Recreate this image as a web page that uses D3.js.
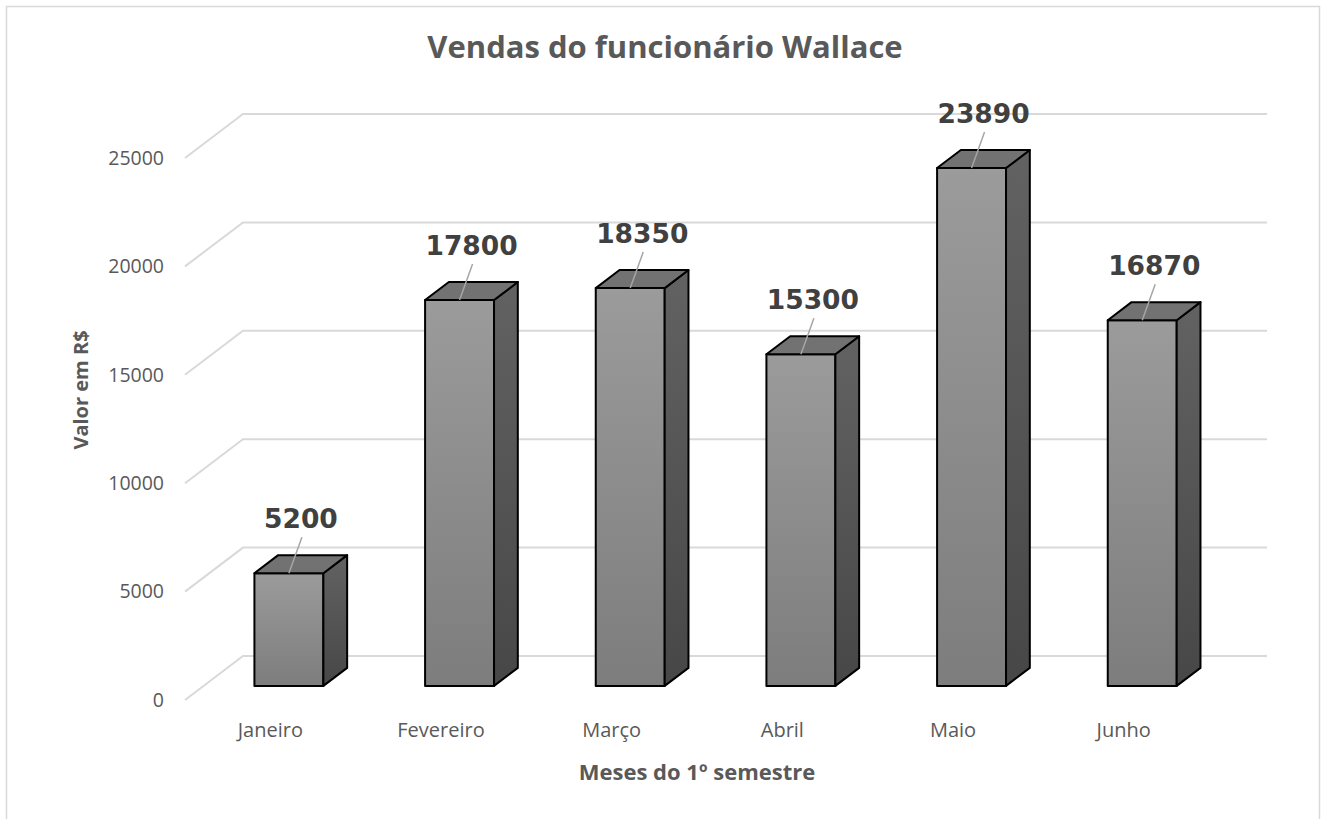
<!DOCTYPE html>
<html>
<head>
<meta charset="utf-8">
<script src="https://cdn.jsdelivr.net/npm/d3@7"></script>
<style>
  html, body { margin: 0; padding: 0; background: #fff; }
  svg { display: block; }
</style>
</head>
<body>
<svg id="chart" width="1326" height="819"></svg>
<script>
// dados
const meses = ['Janeiro', 'Fevereiro', 'Março', 'Abril', 'Maio', 'Junho'];
const vendas = [5200, 17800, 18350, 15300, 23890, 16870];
const yTicks = [0, 5000, 10000, 15000, 20000, 25000];

const width = 1326, height = 819;
const svg = d3.select('#chart');
const font = '"Open Sans", "Segoe UI", sans-serif';

// plano frontal + profundidade (pseudo 3D)
const frontLeft = 185, frontRight = 1209;
const depthX = 58, depthY = -44;
const zFront = 0.32, zBack = 0.73;

const x = d3.scaleBand().domain(meses).range([frontLeft, frontRight])
  .paddingInner(0.596).paddingOuter(0.298);
const y = d3.scaleLinear().domain([0, 25000]).range([700, 158]);

const proj = (px, v, z) => [px + z * depthX, y(v) + z * depthY];

// borda do gráfico
svg.append('rect')
  .attr('x', 6.5).attr('y', 6.5).attr('width', 1313).attr('height', 830)
  .attr('fill', 'none').attr('stroke', '#d9d9d9').attr('stroke-width', 1.5);

// linhas de grade (parede lateral + parede do fundo)
const gridGroup = svg.append('g');
gridGroup.selectAll('polyline').data(yTicks).join('polyline')
  .attr('fill', 'none')
  .attr('stroke', '#d9d9d9')
  .attr('stroke-width', 2)
  .attr('points', d => [proj(frontLeft, d, 0), proj(frontLeft, d, 1), proj(frontRight, d, 1)]
    .map(p => p.join(',')).join(' '));

// gradientes
const defs = svg.append('defs');
const gFront = defs.append('linearGradient').attr('id', 'gFront')
  .attr('x1', 0).attr('y1', 0).attr('x2', 0).attr('y2', 1);
gFront.append('stop').attr('offset', '0%').attr('stop-color', '#9b9b9b');
gFront.append('stop').attr('offset', '100%').attr('stop-color', '#7d7d7d');
const gSide = defs.append('linearGradient').attr('id', 'gSide')
  .attr('x1', 0).attr('y1', 0).attr('x2', 0).attr('y2', 1);
gSide.append('stop').attr('offset', '0%').attr('stop-color', '#626262');
gSide.append('stop').attr('offset', '100%').attr('stop-color', '#474747');

// barras
const bars = svg.append('g').selectAll('g').data(meses).join('g');
const bw = x.bandwidth();
const poly = pts => pts.map(p => p.join(',')).join(' ');

bars.append('polygon') // frente
  .attr('points', (d, i) => {
    const x0 = x(d), x1 = x(d) + bw, v = vendas[i];
    return poly([proj(x0, v, zFront), proj(x1, v, zFront), proj(x1, 0, zFront), proj(x0, 0, zFront)]);
  })
  .attr('fill', 'url(#gFront)')
  .attr('stroke', '#000').attr('stroke-width', 2).attr('stroke-linejoin', 'round');

bars.append('polygon') // lado
  .attr('points', (d, i) => {
    const x1 = x(d) + bw, v = vendas[i];
    return poly([proj(x1, v, zFront), proj(x1, v, zBack), proj(x1, 0, zBack), proj(x1, 0, zFront)]);
  })
  .attr('fill', 'url(#gSide)')
  .attr('stroke', '#000').attr('stroke-width', 2).attr('stroke-linejoin', 'round');

bars.append('polygon') // topo
  .attr('points', (d, i) => {
    const x0 = x(d), x1 = x(d) + bw, v = vendas[i];
    return poly([proj(x0, v, zFront), proj(x0, v, zBack), proj(x1, v, zBack), proj(x1, v, zFront)]);
  })
  .attr('fill', '#727272')
  .attr('stroke', '#000').attr('stroke-width', 2).attr('stroke-linejoin', 'round');

// rótulos de dados com linha guia
const labelGroup = svg.append('g');
vendas.forEach((v, i) => {
  const [cx, cy] = proj(x(meses[i]) + bw / 2, v, zFront);
  const lx = cx + 12, ly = cy - 45;
  labelGroup.append('line')
    .attr('x1', cx).attr('y1', cy)
    .attr('x2', lx + 1).attr('y2', ly + 9)
    .attr('stroke', '#a6a6a6').attr('stroke-width', 1.5);
  labelGroup.append('text')
    .attr('x', lx).attr('y', ly)
    .attr('text-anchor', 'middle')
    .attr('font-family', '"DejaVu Sans", Verdana, sans-serif')
    .attr('font-weight', 'bold')
    .attr('font-size', 26.5)
    .attr('fill', '#404040')
    .text(v);
});

// eixo y
const yAxis = svg.append('g')
  .attr('transform', `translate(${frontLeft},0)`)
  .call(d3.axisLeft(y).tickValues(yTicks).tickSize(0).tickPadding(21).tickFormat(d3.format('d')));
yAxis.select('.domain').remove();
yAxis.selectAll('text').attr('font-family', font).attr('font-size', 19.5).attr('fill', '#595959');

// eixo x
const xAxis = svg.append('g')
  .attr('transform', 'translate(0,700)')
  .call(d3.axisBottom(x).tickSize(0).tickPadding(23));
xAxis.select('.domain').remove();
xAxis.selectAll('text').attr('font-family', font).attr('font-size', 20).attr('fill', '#595959');

// títulos
svg.append('text')
  .attr('x', 665).attr('y', 58)
  .attr('text-anchor', 'middle')
  .attr('font-family', font).attr('font-weight', 'bold').attr('font-size', 31)
  .attr('fill', '#595959')
  .text('Vendas do funcionário Wallace');

svg.append('text')
  .attr('x', 697).attr('y', 780)
  .attr('text-anchor', 'middle')
  .attr('font-family', font).attr('font-weight', 'bold').attr('font-size', 22)
  .attr('fill', '#595959')
  .text('Meses do 1º semestre');

svg.append('text')
  .attr('transform', 'translate(88,390) rotate(-90)')
  .attr('text-anchor', 'middle')
  .attr('font-family', font).attr('font-weight', 'bold').attr('font-size', 20)
  .attr('fill', '#595959')
  .text('Valor em R$');
</script>
</body>
</html>
